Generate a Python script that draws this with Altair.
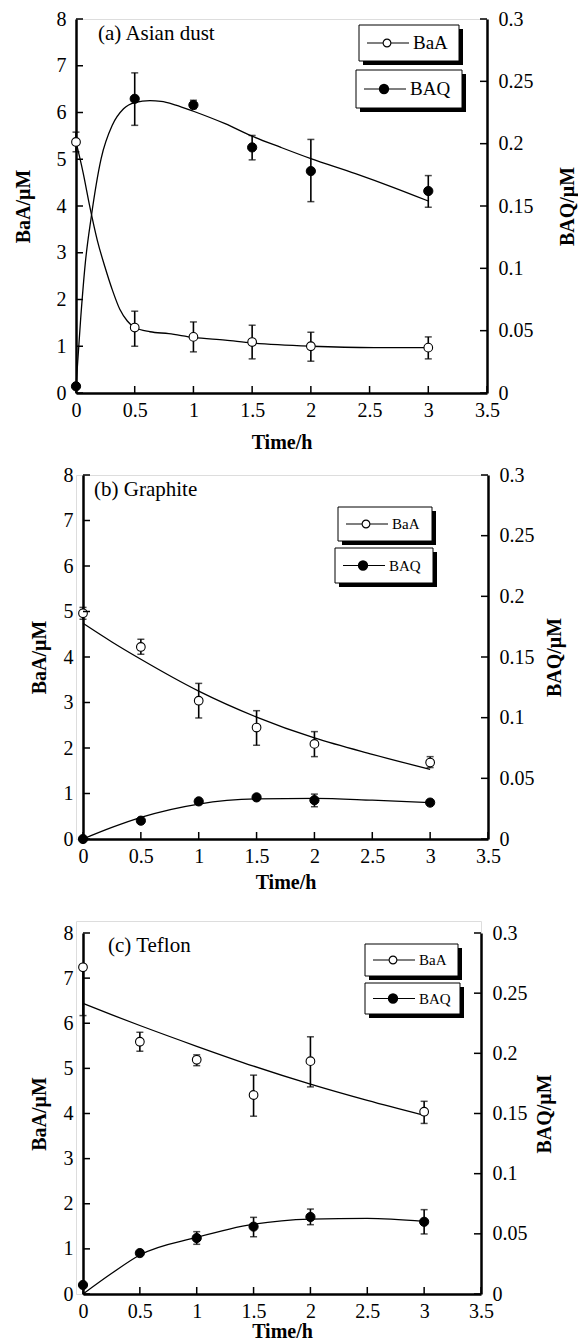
import altair as alt
import pandas as pd

FONT = "Liberation Serif"

# ---------------- data ----------------
time = [0, 0.5, 1, 1.5, 2, 3]

# (a) Asian dust
a_baa = [5.37, 1.40, 1.20, 1.09, 1.00, 0.97]
a_baa_lo = [5.16, 1.00, 0.88, 0.73, 0.68, 0.73]
a_baa_hi = [5.58, 1.75, 1.52, 1.45, 1.30, 1.20]
a_baq = [0.0054, 0.236, 0.231, 0.197, 0.178, 0.162]
a_baq_lo = [0.0054, 0.2147, 0.2281, 0.187, 0.1535, 0.149]
a_baq_hi = [0.0054, 0.2568, 0.2348, 0.2066, 0.2034, 0.1744]
a_fit_baa_t = [0, 0.06, 0.118, 0.182, 0.246, 0.31, 0.373, 0.437, 0.5, 0.63, 0.79, 1.0, 1.27, 1.5, 2.0, 2.54, 3.0]
a_fit_baa = [5.37, 4.72, 3.98, 3.26, 2.70, 2.20, 1.79, 1.54, 1.40, 1.31, 1.27, 1.19, 1.13, 1.07, 1.00, 0.97, 0.97]
a_fit_baq_t = [0, 0.04, 0.08, 0.128, 0.214, 0.31, 0.405, 0.5, 0.63, 0.724, 0.85, 1.0, 1.27, 1.5, 1.745, 2.0, 2.38, 2.70, 3.0]
a_fit_baq = [0.005, 0.06, 0.105, 0.140, 0.188, 0.215, 0.228, 0.233, 0.2345, 0.234, 0.231, 0.226, 0.216, 0.206, 0.197, 0.188, 0.176, 0.165, 0.154]

# (b) Graphite
b_baa = [4.96, 4.22, 3.04, 2.45, 2.09, 1.68]
b_baa_lo = [4.83, 4.06, 2.66, 2.06, 1.81, 1.57]
b_baa_hi = [5.09, 4.39, 3.42, 2.82, 2.36, 1.81]
b_baq = [0.0, 0.0151, 0.031, 0.0343, 0.032, 0.030]
b_baq_lo = [0.0, 0.0151, 0.031, 0.0343, 0.0266, 0.030]
b_baq_hi = [0.0, 0.0151, 0.031, 0.0343, 0.037, 0.030]
b_fit_t = [0, 0.25, 0.5, 1, 1.5, 2, 2.5, 3]
b_fit_baa = [4.74, 4.33, 3.95, 3.25, 2.68, 2.22, 1.86, 1.53]
b_fit_baq = [0.0, 0.0095, 0.0178, 0.0288, 0.033, 0.0335, 0.032, 0.030]

# (c) Teflon
c_baa = [7.24, 5.59, 5.19, 4.41, 5.16, 4.04]
c_baa_lo = [6.17, 5.38, 5.06, 3.94, 4.59, 3.78]
c_baa_hi = [7.24, 5.80, 5.30, 4.85, 5.70, 4.27]
c_baq = [0.0075, 0.034, 0.0465, 0.056, 0.064, 0.060]
c_baq_lo = [0.0075, 0.034, 0.0413, 0.0476, 0.0576, 0.0499]
c_baq_hi = [0.0075, 0.034, 0.0518, 0.0637, 0.0706, 0.0701]
c_fit_t = [0, 0.25, 0.5, 1, 1.5, 2, 2.5, 3]
c_fit_baa = [6.44, 6.19, 5.95, 5.49, 5.05, 4.65, 4.29, 3.96]
c_fit_baq = [0.0, 0.017, 0.0324, 0.047, 0.058, 0.0623, 0.0629, 0.0604]

panel_titles = ["(a) Asian dust", "(b) Graphite", "(c) Teflon"]
series_names = ["BaA", "BAQ"]

x_ticks = [0, 0.5, 1, 1.5, 2, 2.5, 3, 3.5]
left_ticks = [0, 1, 2, 3, 4, 5, 6, 7, 8]
right_ticks = [0, 0.05, 0.1, 0.15, 0.2, 0.25, 0.3]


def make_panel(title, baa, baa_lo, baa_hi, baq, baq_lo, baq_hi,
               fit_baa_t, fit_baa, fit_baq_t, fit_baq, lay):
    gw, gh, xo, yo = lay["gw"], lay["gh"], lay["xo"], lay["yo"]
    xsc = alt.Scale(domain=[0, 3.5], range=[xo, gw], nice=False, zero=False)
    ysl = alt.Scale(domain=[0, 8], range=[gh, yo], nice=False, zero=False)
    ysr = alt.Scale(domain=[0, 0.3], range=[gh, yo], nice=False, zero=False)

    common = dict(domainColor="black", domainWidth=2.5, ticks=False, grid=False,
                  labelFont=FONT, labelFontSize=20, labelColor="black",
                  titleFont=FONT, titleFontSize=20, titleFontWeight="bold",
                  titleColor="black", format="~g", labelFlush=False,
                  labelOverlap=False)
    xaxis = alt.Axis(values=x_ticks, title="Time/h", labelPadding=7,
                     titlePadding=lay["xtp"], **common)
    laxis = alt.Axis(values=left_ticks, title="BaA/μM", orient="left",
                     labelPadding=10, titlePadding=lay["ltp"], offset=-xo,
                     **common)
    raxis = alt.Axis(values=right_ticks, title="BAQ/μM", orient="right",
                     labelPadding=11, titlePadding=lay["rtp"], titleAngle=270,
                     titleBaseline="top", **common)

    X = lambda f: alt.X(f, type="quantitative", scale=xsc, axis=xaxis)
    YL = lambda f: alt.Y(f, type="quantitative", scale=ysl, axis=laxis)
    YR = lambda f: alt.Y(f, type="quantitative", scale=ysr, axis=raxis)

    pts_a = pd.DataFrame({"t": time, "v": baa, "lo": baa_lo, "hi": baa_hi})
    pts_q = pd.DataFrame({"t": time, "v": baq, "lo": baq_lo, "hi": baq_hi})
    fit_a = pd.DataFrame({"t": fit_baa_t, "v": fit_baa})
    fit_q = pd.DataFrame({"t": fit_baq_t, "v": fit_baq})

    def group(pts, fit, Y, ticks, tick_x, open_marker):
        line = alt.Chart(fit).mark_line(color="black", strokeWidth=1.3,
                                        interpolate="monotone").encode(x=X("t"), y=Y("v"))
        err = alt.Chart(pts).mark_rule(color="black", strokeWidth=1.6).encode(
            x=X("t"), y=Y("lo"), y2="hi")
        cap_lo = alt.Chart(pts).mark_tick(color="black", orient="horizontal",
                                          size=7, thickness=1.5).encode(x=X("t"), y=Y("lo"))
        cap_hi = alt.Chart(pts).mark_tick(color="black", orient="horizontal",
                                          size=7, thickness=1.5).encode(x=X("t"), y=Y("hi"))
        if open_marker:
            pm = alt.Chart(pts).mark_point(shape="circle", filled=True, fill="white",
                                           stroke="black", strokeWidth=1.1,
                                           size=75, opacity=1)
        else:
            pm = alt.Chart(pts).mark_point(shape="circle", filled=True, fill="black",
                                           stroke="black", strokeWidth=1,
                                           size=85, opacity=1)
        pm = pm.encode(x=X("t"), y=Y("v"))
        tk = alt.Chart(pd.DataFrame({"v": ticks})).mark_rule(
            color="black", strokeWidth=1.5).encode(
            y=Y("v"), x=alt.value(tick_x[0]), x2=alt.value(tick_x[1]))
        return alt.layer(line, err, cap_lo, cap_hi, pm, tk)

    xt = alt.Chart(pd.DataFrame({"v": x_ticks})).mark_rule(
        color="black", strokeWidth=1.5).encode(
        x=X("v"), y=alt.value(gh - 7), y2=alt.value(gh))

    left = alt.layer(group(pts_a, fit_a, YL, left_ticks, (xo, xo + 7), True), xt)
    right = group(pts_q, fit_q, YR, right_ticks, (gw - 7, gw), False)

    deco = []
    # panel label
    deco.append(alt.Chart(pd.DataFrame({"label": [title]})).mark_text(
        align="left", baseline="middle", font=FONT, fontSize=21, color="black").encode(
        x=alt.value(lay["tx"]), y=alt.value(lay["ty"]), text="label:N"))
    # legend boxes
    for name, (bx, by, bw, bh), open_m in zip(series_names, lay["boxes"], [True, False]):
        d = pd.DataFrame({"label": [name]})
        deco.append(alt.Chart(d).mark_rect(color="black").encode(
            x=alt.value(bx + 4), x2=alt.value(bx + bw + 4),
            y=alt.value(by + 4), y2=alt.value(by + bh + 4)))
        deco.append(alt.Chart(d).mark_rect(fill="white", stroke="black", strokeWidth=1).encode(
            x=alt.value(bx), x2=alt.value(bx + bw), y=alt.value(by), y2=alt.value(by + bh)))
        cy = by + bh / 2
        deco.append(alt.Chart(d).mark_rule(color="black", strokeWidth=1.2).encode(
            x=alt.value(bx + 8), x2=alt.value(bx + 50), y=alt.value(cy)))
        if open_m:
            mk = alt.Chart(d).mark_point(shape="circle", filled=True, fill="white",
                                         stroke="black", strokeWidth=1.1, size=60, opacity=1)
        else:
            mk = alt.Chart(d).mark_point(shape="circle", filled=True, fill="black",
                                         stroke="black", size=70, opacity=1)
        deco.append(mk.encode(x=alt.value(bx + 28), y=alt.value(cy)))
        deco.append(alt.Chart(d).mark_text(
            align="left", baseline="middle", font=FONT, fontSize=lay["lfs"],
            color="black").encode(x=alt.value(bx + 54), y=alt.value(cy), text="label:N"))

    return alt.layer(left, right, *deco).resolve_scale(y="independent").properties(
        width=gw, height=gh)


lay_a = dict(gw=411, gh=374, xo=0, yo=0, xtp=12, ltp=23, rtp=24, tx=22, ty=15,
             lfs=19, boxes=[(283, 6, 100, 36), (280, 51, 106, 38)])
lay_b = dict(gw=412, gh=364, xo=7, yo=0, xtp=6, ltp=14, rtp=10, tx=18, ty=15,
             lfs=15, boxes=[(262, 32, 94, 34), (259, 73, 98, 35)])
lay_c = dict(gw=405, gh=373, xo=7, yo=12, xtp=0, ltp=14, rtp=7, tx=32, ty=25,
             lfs=15, boxes=[(289, 23, 93, 32), (289, 62, 95, 31)])

pa = make_panel(panel_titles[0], a_baa, a_baa_lo, a_baa_hi, a_baq, a_baq_lo, a_baq_hi,
                a_fit_baa_t, a_fit_baa, a_fit_baq_t, a_fit_baq, lay_a)
pb = make_panel(panel_titles[1], b_baa, b_baa_lo, b_baa_hi, b_baq, b_baq_lo, b_baq_hi,
                b_fit_t, b_fit_baa, b_fit_t, b_fit_baq, lay_b)
pc = make_panel(panel_titles[2], c_baa, c_baa_lo, c_baa_hi, c_baq, c_baq_lo, c_baq_hi,
                c_fit_t, c_fit_baa, c_fit_t, c_fit_baq, lay_c)

chart = alt.vconcat(pa, pb, pc, spacing=82, bounds="flush").properties(
    padding={"left": 12, "top": 8, "right": 0, "bottom": 0}
).configure_view(stroke=None).configure(background="white", font=FONT).configure_axis(
    labelFont=FONT, titleFont=FONT).configure_text(font=FONT)

chart.save("out.html", embed_options={"renderer": "svg", "actions": False})
